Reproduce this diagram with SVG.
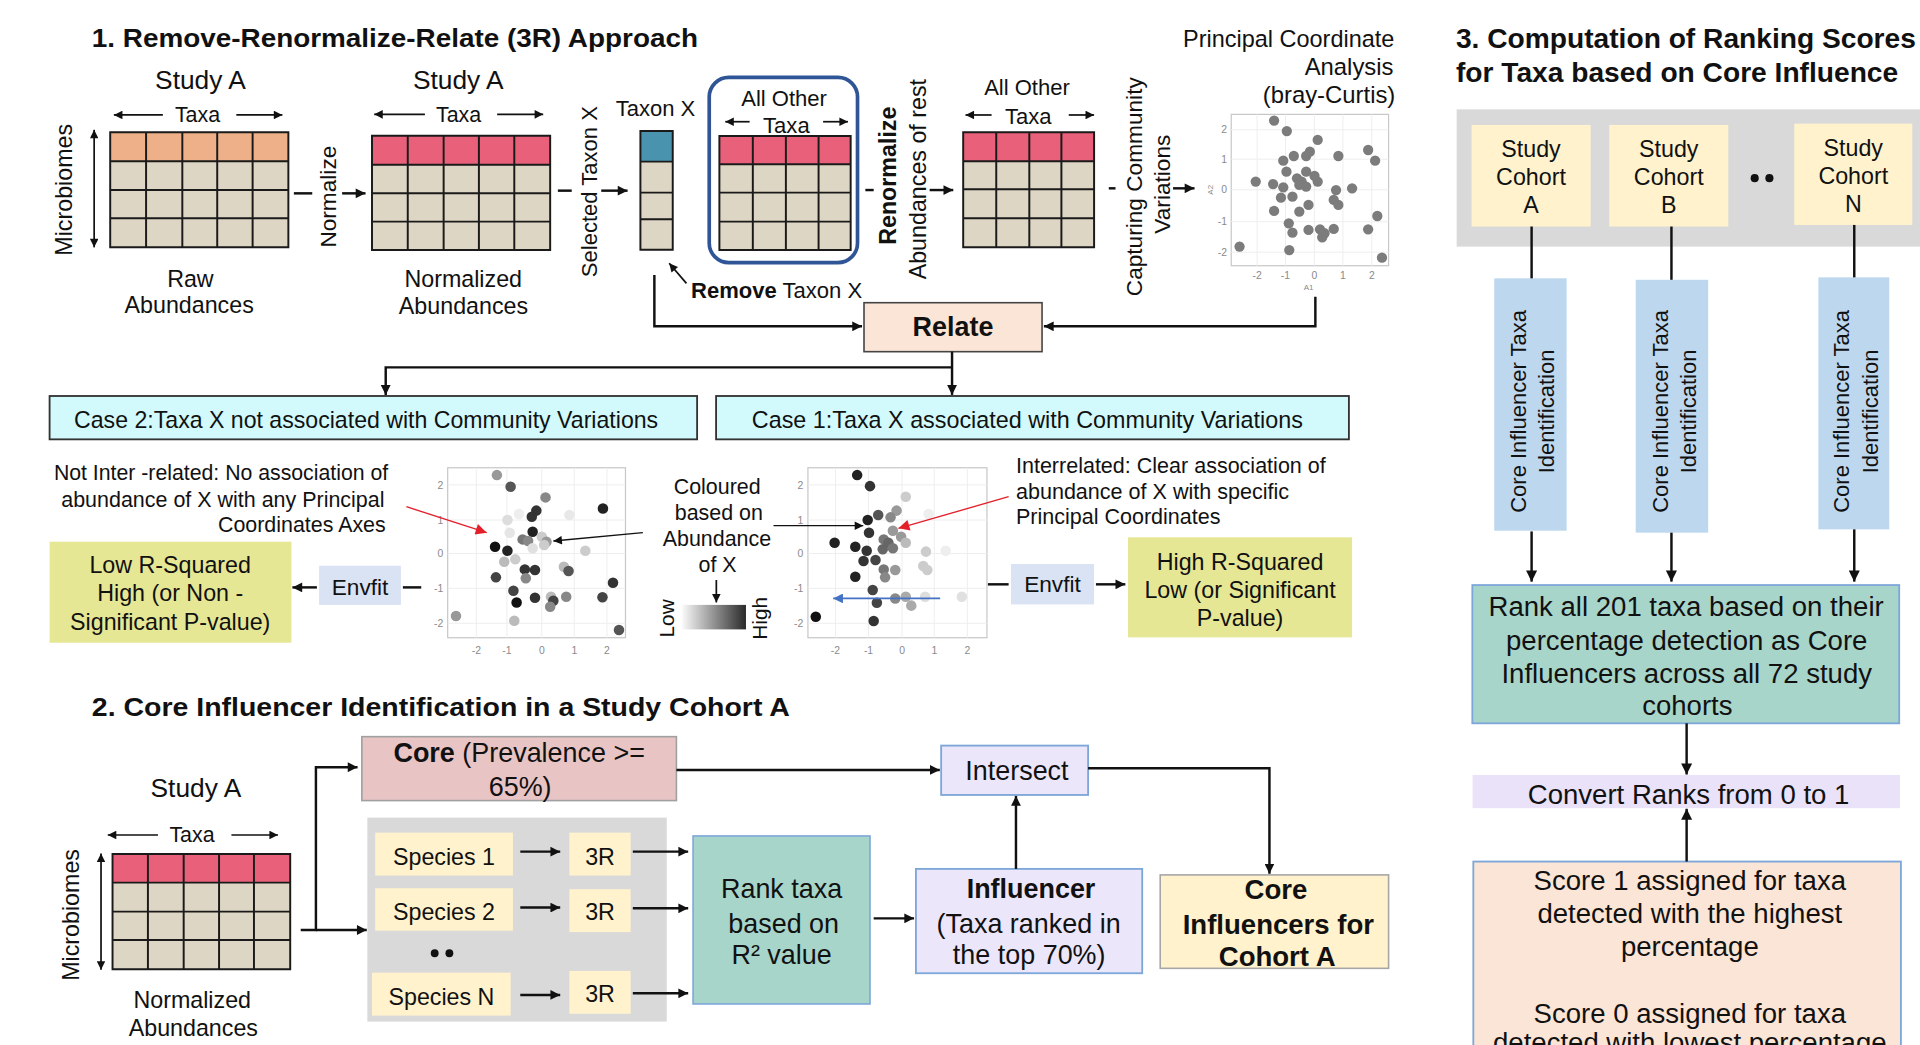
<svg xmlns="http://www.w3.org/2000/svg" width="1920" height="1045" viewBox="0 0 1920 1045">
<defs>
<style>
.t{font-family:"Liberation Sans",Arial,sans-serif;fill:#111}
.b{font-weight:bold}
.m{text-anchor:middle}
.e{text-anchor:end}
.c{stroke:#111;stroke-width:2;fill:none}
.ct{stroke:#111;stroke-width:1.4;fill:none}
.g{stroke:#1a1a1a;stroke-width:1.6;fill:none}
.tk{font-family:"Liberation Sans",Arial,sans-serif;fill:#8a8a8a;font-size:8.5px}
.fr{fill:#fff;stroke:#c8c8c8;stroke-width:1}
.gl{stroke:#eeeeee;stroke-width:0.8}
</style>
<marker id="a" viewBox="0 0 10 10" refX="10" refY="5" markerWidth="9" markerHeight="8" orient="auto-start-reverse" markerUnits="userSpaceOnUse"><path d="M0,0L10,5L0,10z" fill="#111"/></marker>
<marker id="as" viewBox="0 0 10 10" refX="10" refY="5" markerWidth="8" markerHeight="7" orient="auto-start-reverse" markerUnits="userSpaceOnUse"><path d="M0,0L10,5L0,10z" fill="#111"/></marker>
<marker id="ar" viewBox="0 0 10 10" refX="10" refY="5" markerWidth="10" markerHeight="9" orient="auto" markerUnits="userSpaceOnUse"><path d="M0,0L10,5L0,10z" fill="#e3202a"/></marker>
<marker id="ab" viewBox="0 0 10 10" refX="10" refY="5" markerWidth="9" markerHeight="8" orient="auto" markerUnits="userSpaceOnUse"><path d="M0,0L10,5L0,10z" fill="#4472c4"/></marker>
<marker id="a3" viewBox="0 0 10 10" refX="10" refY="5" markerWidth="10" markerHeight="9" orient="auto" markerUnits="userSpaceOnUse"><path d="M0,0L10,5L0,10z" fill="#111"/></marker>
<linearGradient id="grad" x1="0" y1="0" x2="1" y2="0"><stop offset="0" stop-color="#fafafa"/><stop offset="1" stop-color="#2a2a2a"/></linearGradient>
</defs>
<rect width="1920" height="1045" fill="#fff"/>
<g transform="scale(1.2245)">

<!-- ============ SECTION 1 ============ -->
<text class="t b" x="75" y="38.5" font-size="21.5" textLength="495" lengthAdjust="spacingAndGlyphs">1. Remove-Renormalize-Relate (3R) Approach</text>

<g id="raw-matrix">
<text class="t m" x="163.7" y="72.8" font-size="21.5">Study A</text>
<text class="t m" x="161.3" y="99.9" font-size="17.5">Taxa</text>
<line class="ct" x1="133" y1="93.9" x2="93" y2="93.9" marker-end="url(#as)"/>
<line class="ct" x1="193" y1="93.9" x2="230.6" y2="93.9" marker-end="url(#as)"/>
<text class="t m" transform="translate(59.2,155) rotate(-90)" font-size="19">Microbiomes</text>
<line class="ct" x1="76.9" y1="106" x2="76.9" y2="202" marker-start="url(#as)" marker-end="url(#as)"/>
<rect x="90" y="108" width="145.5" height="94" fill="#DED6C4"/>
<rect x="90" y="108" width="145.5" height="23.7" fill="#EDB088"/>
<path class="g" d="M90,108H235.5V202H90Z M119.3,108V202 M148.9,108V202 M177.4,108V202 M206.3,108V202 M90,131.7H235.5 M90,155.2H235.5 M90,178.3H235.5"/>
<text class="t m" x="155.5" y="234" font-size="19">Raw</text>
<text class="t m" x="154.5" y="255.6" font-size="19">Abundances</text>
</g>

<g id="norm-matrix">
<text class="t m" x="374.3" y="72.8" font-size="21.5">Study A</text>
<text class="t m" x="374.5" y="99.4" font-size="17.5">Taxa</text>
<line class="ct" x1="347" y1="93.4" x2="305.6" y2="93.4" marker-end="url(#as)"/>
<line class="ct" x1="406" y1="93.4" x2="443.6" y2="93.4" marker-end="url(#as)"/>
<rect x="303.8" y="110.8" width="145.5" height="93.4" fill="#DED6C4"/>
<rect x="303.8" y="110.8" width="145.5" height="23.7" fill="#E8607A"/>
<path class="g" d="M303.8,110.8H449.3V204.2H303.8Z M333,110.8V204.2 M362.3,110.8V204.2 M391.1,110.8V204.2 M420,110.8V204.2 M303.8,134.5H449.3 M303.8,157.9H449.3 M303.8,181H449.3"/>
<text class="t m" x="378.3" y="234" font-size="19">Normalized</text>
<text class="t m" x="378.5" y="256.5" font-size="19">Abundances</text>
</g>

<g id="taxon-x">
<text class="t m" x="535.3" y="94.8" font-size="18">Taxon X</text>
<rect x="523" y="107" width="26.4" height="97" fill="#DED6C4"/>
<rect x="523" y="107" width="26.4" height="25" fill="#4A93AF"/>
<path class="g" d="M523,107H549.4V204H523Z M523,132H549.4 M523,157.3H549.4 M523,179H549.4"/>
<text class="t" x="564.4" y="243" font-size="18"><tspan class="b">Remove</tspan> Taxon X</text>
</g>

<g id="other-taxa">
<rect x="587.5" y="111" width="107.2" height="93.2" fill="#DED6C4"/>
<rect x="587.5" y="111" width="107.2" height="23.2" fill="#E8607A"/>
<path class="g" d="M587.5,111H694.7V204.2H587.5Z M614.8,111V204.2 M641.8,111V204.2 M668.5,111V204.2 M587.5,134.2H694.7 M587.5,157.3H694.7 M587.5,181H694.7"/>
<rect x="579.2" y="63.2" width="121.1" height="151.3" rx="16" fill="none" stroke="#2F5597" stroke-width="3"/>
<text class="t m" x="640.3" y="86.6" font-size="18">All Other</text>
<text class="t m" x="642.2" y="109" font-size="18">Taxa</text>
<line class="ct" x1="612.2" y1="99.4" x2="592.3" y2="99.4" marker-end="url(#as)"/>
<line class="ct" x1="672.2" y1="99.4" x2="692.5" y2="99.4" marker-end="url(#as)"/>
</g>

<g id="renorm-matrix">
<text class="t m" x="838.7" y="77.9" font-size="18">All Other</text>
<text class="t m" x="839.8" y="101" font-size="18">Taxa</text>
<line class="ct" x1="809.8" y1="93.9" x2="788.5" y2="93.9" marker-end="url(#as)"/>
<line class="ct" x1="872.8" y1="93.9" x2="893.5" y2="93.9" marker-end="url(#as)"/>
<rect x="786.6" y="108" width="106.9" height="94" fill="#DED6C4"/>
<rect x="786.6" y="108" width="106.9" height="23.7" fill="#E8607A"/>
<path class="g" d="M786.6,108H893.5V202H786.6Z M813.6,108V202 M840.6,108V202 M866.8,108V202 M786.6,131.7H893.5 M786.6,154.6H893.5 M786.6,178.3H893.5"/>
</g>

<g id="pcoa">
<text class="t e" x="1138.7" y="38" font-size="19.5" textLength="172.5" lengthAdjust="spacingAndGlyphs">Principal Coordinate</text>
<text class="t e" x="1138" y="61.2" font-size="19.5">Analysis</text>
<text class="t e" x="1139.5" y="84.4" font-size="19.5">(bray-Curtis)</text>
<rect class="fr" x="1005.5" y="93.4" width="128.5" height="123.6"/>
<path class="gl" d="M1026.6,93.4V217 M1049.8,93.4V217 M1073.4,93.4V217 M1096.7,93.4V217 M1120.3,93.4V217 M1005.5,106H1134 M1005.5,130H1134 M1005.5,155H1134 M1005.5,181H1134 M1005.5,206H1134"/>
<g class="tk" text-anchor="end">
<text x="1002" y="109">2</text><text x="1002" y="133">1</text><text x="1002" y="158">0</text><text x="1002" y="184">-1</text><text x="1002" y="209">-2</text>
</g>
<g class="tk" text-anchor="middle">
<text x="1026.6" y="228">-2</text><text x="1049.8" y="228">-1</text><text x="1073.4" y="228">0</text><text x="1096.7" y="228">1</text><text x="1120.3" y="228">2</text>
<text x="1068.6" y="237" font-size="6.5">A1</text>
<text transform="translate(990.5,155) rotate(-90)" font-size="6.5">A2</text>
</g>
<g fill="#7c7c7c">
<circle cx="1040.5" cy="98.5" r="4.2"/><circle cx="1050.9" cy="107" r="4.2"/><circle cx="1076.1" cy="114.3" r="4.2"/><circle cx="1117.3" cy="122.5" r="4.2"/>
<circle cx="1093" cy="127.4" r="4.2"/><circle cx="1123" cy="131.2" r="4.2"/><circle cx="1056.6" cy="127.4" r="4.2"/><circle cx="1048" cy="131.2" r="4.2"/>
<circle cx="1069.7" cy="123.9" r="4.2"/><circle cx="1066.7" cy="127.4" r="4.2"/><circle cx="1050.6" cy="140.2" r="4.2"/><circle cx="1066.7" cy="140.2" r="4.2"/>
<circle cx="1073.5" cy="143.7" r="4.2"/><circle cx="1059.2" cy="145.6" r="4.2"/><circle cx="1063" cy="148.3" r="4.2"/><circle cx="1076.1" cy="148.3" r="4.2"/>
<circle cx="1061.1" cy="151" r="4.2"/><circle cx="1066.7" cy="152.4" r="4.2"/><circle cx="1025.5" cy="148.3" r="4.2"/><circle cx="1039.7" cy="150.3" r="4.2"/>
<circle cx="1048" cy="153" r="4.2"/><circle cx="1055.5" cy="160.6" r="4.2"/><circle cx="1091.1" cy="155.2" r="4.2"/><circle cx="1104.2" cy="153.8" r="4.2"/>
<circle cx="1046.1" cy="161.4" r="4.2"/><circle cx="1089.2" cy="163.3" r="4.2"/><circle cx="1093" cy="167.4" r="4.2"/><circle cx="1068.6" cy="167.4" r="4.2"/>
<circle cx="1061.1" cy="172.9" r="4.2"/><circle cx="1040.5" cy="172.3" r="4.2"/><circle cx="1124.8" cy="176.4" r="4.2"/><circle cx="1052.5" cy="182.4" r="4.2"/>
<circle cx="1055.5" cy="190" r="4.2"/><circle cx="1068.6" cy="187.8" r="4.2"/><circle cx="1078" cy="187.3" r="4.2"/><circle cx="1081.7" cy="190.5" r="4.2"/>
<circle cx="1089.2" cy="187" r="4.2"/><circle cx="1117.3" cy="187.3" r="4.2"/><circle cx="1079.8" cy="193.8" r="4.2"/><circle cx="1012.3" cy="201.4" r="4.2"/>
<circle cx="1052.9" cy="204.2" r="4.2"/><circle cx="1128.6" cy="210.4" r="4.2"/>
</g>
</g>

<g id="relate">
<rect x="705.6" y="247.2" width="145.4" height="40" fill="#FBE5D6" stroke="#444" stroke-width="1.3"/>
<text class="t m b" x="778.3" y="274.7" font-size="22">Relate</text>
</g>

<g id="case2">
<rect x="40.5" y="323.4" width="528.8" height="35.4" fill="#D2FAFD" stroke="#333" stroke-width="1.5"/>
<text class="t m" x="299" y="349.6" font-size="19" textLength="477" lengthAdjust="spacingAndGlyphs">Case 2:Taxa X not associated with Community Variations</text>
</g>
<g id="case1">
<rect x="584.8" y="323.4" width="516.8" height="35.4" fill="#D2FAFD" stroke="#333" stroke-width="1.5"/>
<text class="t m" x="839" y="349.6" font-size="19" textLength="450" lengthAdjust="spacingAndGlyphs">Case 1:Taxa X associated with Community Variations</text>
</g>

<g id="annot-left">
<text class="t e" x="317" y="392" font-size="17.5" textLength="273" lengthAdjust="spacingAndGlyphs">Not Inter -related: No association of</text>
<text class="t e" x="314" y="413.7" font-size="17.5" textLength="264" lengthAdjust="spacingAndGlyphs">abundance of X with any Principal</text>
<text class="t e" x="315" y="434.2" font-size="17.5" textLength="137" lengthAdjust="spacingAndGlyphs">Coordinates Axes</text>
</g>
<g id="annot-right">
<text class="t" x="829.7" y="386" font-size="17.5" textLength="253" lengthAdjust="spacingAndGlyphs">Interrelated: Clear association of</text>
<text class="t" x="829.7" y="407.8" font-size="17.5" textLength="223" lengthAdjust="spacingAndGlyphs">abundance of X with specific</text>
<text class="t" x="829.7" y="428.2" font-size="17.5" textLength="167" lengthAdjust="spacingAndGlyphs">Principal Coordinates</text>
</g>

<g id="plot-left">
<rect class="fr" x="365.6" y="382" width="145.2" height="138.8"/>
<path class="gl" d="M389,382V520.8 M414,382V520.8 M442.5,382V520.8 M469,382V520.8 M495.7,382V520.8 M365.6,396H510.8 M365.6,424.7H510.8 M365.6,452H510.8 M365.6,480.5H510.8 M365.6,509H510.8"/>
<g class="tk" text-anchor="end"><text x="362" y="399">2</text><text x="362" y="427.7">1</text><text x="362" y="455">0</text><text x="362" y="483.5">-1</text><text x="362" y="512">-2</text></g>
<g class="tk" text-anchor="middle"><text x="389" y="534">-2</text><text x="414" y="534">-1</text><text x="442.5" y="534">0</text><text x="469" y="534">1</text><text x="495.7" y="534">2</text></g>
<circle cx="405.8" cy="388" r="4.3" fill="#999"/><circle cx="417" cy="397.5" r="4.3" fill="#555"/><circle cx="445.5" cy="406.2" r="4.3" fill="#888"/><circle cx="492.4" cy="415.2" r="4.3" fill="#222"/>
<circle cx="414.4" cy="424.7" r="4.3" fill="#ddd"/><circle cx="423.8" cy="419.8" r="4.3" fill="#eee"/><circle cx="465" cy="420.6" r="4.3" fill="#e8e8e8"/><circle cx="438" cy="417" r="4.3" fill="#333"/>
<circle cx="434.3" cy="422" r="4.3" fill="#333"/><circle cx="416.3" cy="435" r="4.3" fill="#e5e5e5"/><circle cx="435" cy="434.2" r="4.3" fill="#222"/><circle cx="426.8" cy="440.5" r="4.3" fill="#777"/>
<circle cx="431.3" cy="441.8" r="4.3" fill="#888"/><circle cx="442.5" cy="438.3" r="4.3" fill="#ccc"/><circle cx="446.3" cy="442.4" r="4.3" fill="#999"/><circle cx="444.4" cy="445.1" r="4.3" fill="#ccc"/>
<circle cx="435" cy="447.8" r="4.3" fill="#e0e0e0"/><circle cx="404.3" cy="446.5" r="4.3" fill="#111"/><circle cx="414.4" cy="449.7" r="4.3" fill="#222"/><circle cx="478" cy="449.7" r="4.3" fill="#ccc"/>
<circle cx="411.8" cy="458.7" r="4.3" fill="#bbb"/><circle cx="420.8" cy="456.8" r="4.3" fill="#ccc"/><circle cx="428.6" cy="465" r="4.3" fill="#333"/><circle cx="436.9" cy="465.5" r="4.3" fill="#333"/>
<circle cx="460.5" cy="462.8" r="4.3" fill="#bbb"/><circle cx="464.3" cy="466.3" r="4.3" fill="#555"/><circle cx="405" cy="471.5" r="4.3" fill="#444"/><circle cx="429.4" cy="472.3" r="4.3" fill="#888"/>
<circle cx="419.3" cy="482.4" r="4.3" fill="#444"/><circle cx="421.9" cy="492" r="4.3" fill="#111"/><circle cx="436.9" cy="488.1" r="4.3" fill="#333"/><circle cx="450" cy="487.3" r="4.3" fill="#bbb"/>
<circle cx="451.9" cy="490.6" r="4.3" fill="#444"/><circle cx="449.3" cy="495.5" r="4.3" fill="#888"/><circle cx="462.4" cy="487.3" r="4.3" fill="#888"/><circle cx="492" cy="487.8" r="4.3" fill="#444"/>
<circle cx="500.6" cy="475.9" r="4.3" fill="#333"/><circle cx="372.4" cy="503.1" r="4.3" fill="#999"/><circle cx="420" cy="506.9" r="4.3" fill="#bbb"/><circle cx="505.5" cy="514.5" r="4.3" fill="#555"/>
</g>

<g id="legend">
<text class="t m" x="585.7" y="403.7" font-size="17.5">Coloured</text>
<text class="t m" x="587" y="424.9" font-size="17.5">based on</text>
<text class="t m" x="585.5" y="445.9" font-size="17.5">Abundance</text>
<text class="t m" x="586" y="466.8" font-size="17.5">of X</text>
<line class="ct" x1="585" y1="473.7" x2="585" y2="492" marker-end="url(#as)"/>
<rect x="557" y="494" width="52.2" height="20" fill="url(#grad)"/>
<text class="t m" transform="translate(550.5,505) rotate(-90)" font-size="17">Low</text>
<text class="t m" transform="translate(626.5,505) rotate(-90)" font-size="17">High</text>
</g>

<g id="plot-right">
<rect class="fr" x="659.8" y="382" width="146.2" height="138.8"/>
<path class="gl" d="M682.3,382V520.8 M709.3,382V520.8 M736.7,382V520.8 M763,382V520.8 M790,382V520.8 M659.8,396H806 M659.8,424.7H806 M659.8,452H806 M659.8,480.5H806 M659.8,509H806"/>
<g class="tk" text-anchor="end"><text x="656" y="399">2</text><text x="656" y="427.7">1</text><text x="656" y="455">0</text><text x="656" y="483.5">-1</text><text x="656" y="512">-2</text></g>
<g class="tk" text-anchor="middle"><text x="682.3" y="534">-2</text><text x="709.3" y="534">-1</text><text x="736.7" y="534">0</text><text x="763" y="534">1</text><text x="790" y="534">2</text></g>
<circle cx="700" cy="388" r="4.3" fill="#222"/><circle cx="710.5" cy="397" r="4.3" fill="#333"/><circle cx="739.7" cy="405.6" r="4.3" fill="#ccc"/><circle cx="732.2" cy="417" r="4.3" fill="#999"/>
<circle cx="717.2" cy="420.6" r="4.3" fill="#555"/><circle cx="708.6" cy="424.7" r="4.3" fill="#222"/><circle cx="727.3" cy="422.5" r="4.3" fill="#888"/><circle cx="758.4" cy="419.8" r="4.3" fill="#eee"/>
<circle cx="709.7" cy="435" r="4.3" fill="#333"/><circle cx="729.2" cy="433.4" r="4.3" fill="#999"/><circle cx="735.9" cy="438.3" r="4.3" fill="#999"/><circle cx="721.7" cy="440.5" r="4.3" fill="#777"/>
<circle cx="725.5" cy="443.2" r="4.3" fill="#666"/><circle cx="739.7" cy="443.2" r="4.3" fill="#bbb"/><circle cx="681.6" cy="443.2" r="4.3" fill="#222"/><circle cx="698.5" cy="446.5" r="4.3" fill="#222"/>
<circle cx="707.8" cy="449.7" r="4.3" fill="#333"/><circle cx="720.9" cy="448.6" r="4.3" fill="#666"/><circle cx="729.2" cy="447.8" r="4.3" fill="#777"/><circle cx="756.2" cy="450.5" r="4.3" fill="#ccc"/>
<circle cx="772.3" cy="449.7" r="4.3" fill="#eee"/><circle cx="705.2" cy="458.2" r="4.3" fill="#333"/><circle cx="715" cy="457.4" r="4.3" fill="#444"/><circle cx="754" cy="462.3" r="4.3" fill="#ccc"/>
<circle cx="757.3" cy="465.5" r="4.3" fill="#ccc"/><circle cx="721.7" cy="465" r="4.3" fill="#777"/><circle cx="731.1" cy="465.5" r="4.3" fill="#999"/><circle cx="698.5" cy="471" r="4.3" fill="#222"/>
<circle cx="722.8" cy="471.5" r="4.3" fill="#888"/><circle cx="712.7" cy="481.9" r="4.3" fill="#444"/><circle cx="716.1" cy="492.2" r="4.3" fill="#444"/><circle cx="731.1" cy="488.7" r="4.3" fill="#888"/>
<circle cx="739.7" cy="487.3" r="4.3" fill="#aaa"/><circle cx="744.2" cy="494.6" r="4.3" fill="#aaa"/><circle cx="755.5" cy="487.3" r="4.3" fill="#ddd"/><circle cx="785.5" cy="487.3" r="4.3" fill="#e0e0e0"/>
<circle cx="666.2" cy="503.6" r="4.3" fill="#111"/><circle cx="713.5" cy="507.2" r="4.3" fill="#333"/>
</g>

<g id="envfit-left">
<rect x="260.6" y="462" width="66.8" height="32" fill="#DAE3F3"/>
<text class="t m" x="294" y="486" font-size="18.5">Envfit</text>
</g>
<g id="lowr">
<rect x="40.5" y="442.4" width="197.5" height="82.5" fill="#E6E795"/>
<text class="t m" x="139" y="468" font-size="19">Low R-Squared</text>
<text class="t m" x="139" y="491.2" font-size="19">High (or Non -</text>
<text class="t m" x="139" y="514.3" font-size="19">Significant P-value)</text>
</g>
<g id="envfit-right">
<rect x="825.6" y="460.6" width="67.9" height="33" fill="#DAE3F3"/>
<text class="t m" x="859.5" y="483.8" font-size="18.5">Envfit</text>
</g>
<g id="highr">
<rect x="921.2" y="438.8" width="183" height="81.7" fill="#E6E795"/>
<text class="t m" x="1012.7" y="465.4" font-size="19">High R-Squared</text>
<text class="t m" x="1012.7" y="488" font-size="19">Low (or Significant</text>
<text class="t m" x="1012.7" y="510.9" font-size="19">P-value)</text>
</g>

<!-- section 1 rotated step labels -->
<g id="step-labels">
<text class="t m" transform="translate(274.5,160.6) rotate(-90)" font-size="18.5">Normalize</text>
<text class="t m" transform="translate(487.3,156.5) rotate(-90)" font-size="18">Selected Taxon X</text>
<text class="t m b" transform="translate(732,143.5) rotate(-90)" font-size="19">Renormalize</text>
<text class="t m" transform="translate(756.4,146.3) rotate(-90)" font-size="19">Abundances of rest</text>
<text class="t m" transform="translate(932.5,152.5) rotate(-90)" font-size="18.5">Capturing Community</text>
<text class="t m" transform="translate(955.1,150.4) rotate(-90)" font-size="18.5">Variations</text>
</g>

<!-- ============ SECTION 2 ============ -->
<text class="t b" x="75" y="584.5" font-size="21.5" textLength="570" lengthAdjust="spacingAndGlyphs">2. Core Influencer Identification in a Study Cohort A</text>

<g id="study-a-matrix">
<text class="t m" x="160" y="650.5" font-size="21.5">Study A</text>
<text class="t m" x="156.8" y="688" font-size="17.5">Taxa</text>
<line class="ct" x1="129" y1="681.9" x2="88" y2="681.9" marker-end="url(#as)"/>
<line class="ct" x1="189" y1="681.9" x2="227" y2="681.9" marker-end="url(#as)"/>
<text class="t m" transform="translate(64.7,747.2) rotate(-90)" font-size="19">Microbiomes</text>
<line class="ct" x1="82.5" y1="697" x2="82.5" y2="792" marker-start="url(#as)" marker-end="url(#as)"/>
<rect x="91.9" y="697.4" width="145.1" height="94.2" fill="#DED6C4"/>
<rect x="91.9" y="697.4" width="145.1" height="23.4" fill="#E8607A"/>
<path class="g" d="M91.9,697.4H237V791.6H91.9Z M120.8,697.4V791.6 M150,697.4V791.6 M178.9,697.4V791.6 M207.4,697.4V791.6 M91.9,720.8H237 M91.9,744.5H237 M91.9,767.6H237"/>
<text class="t m" x="157" y="823.2" font-size="19">Normalized</text>
<text class="t m" x="157.9" y="846.4" font-size="19">Abundances</text>
</g>

<g id="core">
<rect x="295.5" y="601.6" width="256.9" height="52.2" fill="#E8C4C5" stroke="#a0a0a0" stroke-width="1.3"/>
<text class="t m" x="424" y="622.3" font-size="22"><tspan class="b">Core</tspan> (Prevalence &gt;=</text>
<text class="t m" x="424.8" y="650" font-size="22">65%)</text>
</g>

<g id="species-panel">
<rect x="300" y="667.7" width="244.5" height="166.6" fill="#D9D9D9"/>
<rect x="306.4" y="680" width="112.5" height="35" fill="#FFF2CC"/>
<text class="t m" x="362.6" y="706.3" font-size="19">Species 1</text>
<rect x="306.4" y="725.4" width="112.5" height="34.6" fill="#FFF2CC"/>
<text class="t m" x="362.6" y="751.2" font-size="19">Species 2</text>
<circle cx="355" cy="778.5" r="3.2" fill="#111"/><circle cx="367" cy="778.5" r="3.2" fill="#111"/>
<rect x="303.8" y="794.3" width="113.2" height="35.1" fill="#FFF2CC"/>
<text class="t m" x="360.5" y="820.6" font-size="19">Species N</text>
<rect x="465" y="680" width="50" height="35" fill="#FFF2CC"/>
<text class="t m" x="490" y="706.3" font-size="19">3R</text>
<rect x="465" y="726.2" width="50" height="35" fill="#FFF2CC"/>
<text class="t m" x="490" y="751.2" font-size="19">3R</text>
<rect x="465" y="792.9" width="50" height="35" fill="#FFF2CC"/>
<text class="t m" x="490" y="818.4" font-size="19">3R</text>
</g>

<g id="rank-taxa">
<rect x="566" y="682.7" width="144.5" height="137.2" fill="#A8D5CA" stroke="#7DA7D9" stroke-width="1.3"/>
<text class="t m" x="638.3" y="733" font-size="22">Rank taxa</text>
<text class="t m" x="640" y="761.7" font-size="22">based on</text>
<text class="t m" x="638.3" y="787.6" font-size="22">R² value</text>
</g>

<g id="intersect">
<rect x="768.6" y="608.9" width="120" height="40.3" fill="#ECE6FA" stroke="#7DA7D9" stroke-width="1.5"/>
<text class="t m" x="830.5" y="637" font-size="22">Intersect</text>
</g>

<g id="influencer">
<rect x="748" y="709.6" width="184.8" height="85.2" fill="#ECE6FA" stroke="#7DA7D9" stroke-width="1.5"/>
<text class="t m b" x="842" y="733" font-size="22">Influencer</text>
<text class="t m" x="840" y="761.7" font-size="22">(Taxa ranked in</text>
<text class="t m" x="840.5" y="787.6" font-size="22">the top 70%)</text>
</g>

<g id="core-influencers">
<rect x="947.5" y="714.5" width="186.5" height="76.3" fill="#FFF2CC" stroke="#a6a6a6" stroke-width="1.3"/>
<text class="t m b" x="1042" y="734.5" font-size="22.5">Core</text>
<text class="t m b" x="1044" y="763" font-size="22.5">Influencers for</text>
<text class="t m b" x="1043" y="788.7" font-size="22.5">Cohort A</text>
</g>

<!-- ============ SECTION 3 ============ -->
<text class="t b" x="1189" y="39.5" font-size="23">3. Computation of Ranking Scores</text>
<text class="t b" x="1189" y="67" font-size="23">for Taxa based on Core Influence</text>

<g id="cohorts">
<rect x="1189.6" y="89.3" width="390" height="112.1" fill="#D9D9D9"/>
<rect x="1201.8" y="102" width="97.2" height="83" fill="#FFF2CC"/>
<text class="t m" x="1250.3" y="128.4" font-size="19">Study</text>
<text class="t m" x="1250.3" y="151" font-size="19">Cohort</text>
<text class="t m" x="1250.3" y="174" font-size="19">A</text>
<rect x="1314.2" y="102" width="97.2" height="83" fill="#FFF2CC"/>
<text class="t m" x="1362.8" y="128.4" font-size="19">Study</text>
<text class="t m" x="1362.8" y="151" font-size="19">Cohort</text>
<text class="t m" x="1362.8" y="174" font-size="19">B</text>
<circle cx="1433" cy="145.5" r="3.3" fill="#111"/><circle cx="1445" cy="145.5" r="3.3" fill="#111"/>
<rect x="1465.3" y="101" width="96.4" height="82.7" fill="#FFF2CC"/>
<text class="t m" x="1513.5" y="127.4" font-size="19">Study</text>
<text class="t m" x="1513.5" y="150" font-size="19">Cohort</text>
<text class="t m" x="1513.5" y="173" font-size="19">N</text>
</g>

<g id="identification">
<rect x="1220.3" y="227.3" width="59.1" height="206.1" fill="#BDD7EE"/>
<text class="t m" transform="translate(1246.3,336) rotate(-90)" font-size="18">Core Influencer Taxa</text>
<text class="t m" transform="translate(1269.3,336) rotate(-90)" font-size="18">Identification</text>
<rect x="1335.8" y="228.5" width="59.2" height="206.5" fill="#BDD7EE"/>
<text class="t m" transform="translate(1361.8,336) rotate(-90)" font-size="18">Core Influencer Taxa</text>
<text class="t m" transform="translate(1384.8,336) rotate(-90)" font-size="18">Identification</text>
<rect x="1485" y="226.5" width="57.9" height="205.8" fill="#BDD7EE"/>
<text class="t m" transform="translate(1510.3,336) rotate(-90)" font-size="18">Core Influencer Taxa</text>
<text class="t m" transform="translate(1533.3,336) rotate(-90)" font-size="18">Identification</text>
</g>

<g id="rank-all">
<rect x="1202.4" y="477.8" width="348.6" height="112.9" fill="#A8D5CA" stroke="#7DA7D9" stroke-width="1.5"/>
<text class="t m" x="1377" y="503.4" font-size="22.5">Rank all 201 taxa based on their</text>
<text class="t m" x="1377.5" y="530.6" font-size="22.5">percentage detection as Core</text>
<text class="t m" x="1377.5" y="557.8" font-size="22.5">Influencers across all 72 study</text>
<text class="t m" x="1378" y="583.6" font-size="22.5">cohorts</text>
</g>

<g id="convert">
<rect x="1202.6" y="632.9" width="349" height="27.1" fill="#EAE2F8"/>
<text class="t m" x="1379" y="656.3" font-size="22.5">Convert Ranks from 0 to 1</text>
</g>

<g id="score">
<rect x="1203.2" y="703.6" width="349.2" height="180" fill="#FBE5D6" stroke="#7DA7D9" stroke-width="1.5"/>
<text class="t m" x="1380" y="726.5" font-size="22.5">Score 1 assigned for taxa</text>
<text class="t m" x="1380" y="753.7" font-size="22.5">detected with the highest</text>
<text class="t m" x="1380" y="780.9" font-size="22.5">percentage</text>
<text class="t m" x="1380" y="835.4" font-size="22.5">Score 0 assigned for taxa</text>
<text class="t m" x="1380" y="859" font-size="22.5">detected with lowest percentage</text>
</g>

<!-- ============ CONNECTORS ============ -->
<g id="connectors">
<line class="c" x1="240" y1="157.9" x2="255" y2="157.9"/>
<line class="c" x1="279.4" y1="157.9" x2="298.5" y2="157.9" marker-end="url(#a)"/>
<line class="c" x1="455.6" y1="155.7" x2="466.9" y2="155.7"/>
<line class="c" x1="491" y1="155.7" x2="512.5" y2="155.7" marker-end="url(#a)"/>
<line class="c" x1="706.7" y1="155.2" x2="713.5" y2="155.2"/>
<line class="c" x1="759.2" y1="155.2" x2="778.5" y2="155.2" marker-end="url(#a)"/>
<line class="c" x1="905.5" y1="153.8" x2="911" y2="153.8"/>
<line class="c" x1="958" y1="153.8" x2="975.5" y2="153.8" marker-end="url(#a)"/>
<line class="ct" x1="560.6" y1="231.4" x2="546.5" y2="215" marker-end="url(#as)"/>
<path class="c" d="M534.4,224.6V266.5H704" marker-end="url(#a)"/>
<path class="c" d="M1074.2,242.3V266.5H852.5" marker-end="url(#a)"/>
<line class="c" x1="777.5" y1="287.2" x2="777.5" y2="322.5" marker-end="url(#a)"/>
<path class="c" d="M777.5,300H315V322.5" marker-end="url(#a)"/>
<line x1="331.9" y1="413.8" x2="397.5" y2="435" stroke="#e3202a" stroke-width="1.1" marker-end="url(#ar)"/>
<line x1="525" y1="435" x2="451.9" y2="441.8" stroke="#111" stroke-width="1.1" marker-end="url(#as)"/>
<line x1="631.7" y1="429.3" x2="705" y2="429.3" stroke="#111" stroke-width="1.1" marker-end="url(#as)"/>
<line x1="823.7" y1="405.6" x2="733.7" y2="431.5" stroke="#e3202a" stroke-width="1.1" marker-end="url(#ar)"/>
<line x1="767.8" y1="488.7" x2="680.4" y2="488.7" stroke="#4472c4" stroke-width="1.4" marker-end="url(#ab)"/>
<line class="c" x1="329" y1="479.7" x2="344" y2="479.7"/>
<line class="c" x1="258.8" y1="479.7" x2="238.8" y2="479.7" marker-end="url(#a)"/>
<line class="c" x1="806.8" y1="477.2" x2="823.7" y2="477.2"/>
<line class="c" x1="895" y1="477.2" x2="919" y2="477.2" marker-end="url(#a)"/>
<path class="c" d="M245.6,759.5H258V626.6H292" marker-end="url(#a)"/>
<line class="c" x1="258" y1="759.5" x2="299.5" y2="759.5" marker-end="url(#a)"/>
<line class="c" x1="552.4" y1="628.8" x2="767.5" y2="628.8" marker-end="url(#a)"/>
<line class="c" x1="424.9" y1="695.5" x2="457.5" y2="695.5" marker-end="url(#a)"/>
<line class="c" x1="424.9" y1="741.2" x2="457.5" y2="741.2" marker-end="url(#a)"/>
<line class="c" x1="424.9" y1="812.5" x2="457.5" y2="812.5" marker-end="url(#a)"/>
<line class="c" x1="516.8" y1="695.5" x2="562" y2="695.5" marker-end="url(#a)"/>
<line class="c" x1="516.8" y1="741.8" x2="562" y2="741.8" marker-end="url(#a)"/>
<line class="c" x1="516.8" y1="811.2" x2="562" y2="811.2" marker-end="url(#a)"/>
<line class="c" x1="713.5" y1="750" x2="746.5" y2="750" marker-end="url(#a)"/>
<line class="c" x1="829.7" y1="709.6" x2="829.7" y2="650" marker-end="url(#a)"/>
<path class="c" d="M888.6,627.4H1036.7V713.5" marker-end="url(#a)"/>
<line class="c" x1="1250.8" y1="185" x2="1250.8" y2="227.3" stroke-width="2.4"/>
<line class="c" x1="1365" y1="185" x2="1365" y2="228.5" stroke-width="2.4"/>
<line class="c" x1="1514.3" y1="183.7" x2="1514.3" y2="226.5" stroke-width="2.4"/>
<line class="c" x1="1250.8" y1="434" x2="1250.8" y2="475" stroke-width="2.4" marker-end="url(#a3)"/>
<line class="c" x1="1365" y1="435" x2="1365" y2="475" stroke-width="2.4" marker-end="url(#a3)"/>
<line class="c" x1="1514.3" y1="432.3" x2="1514.3" y2="475" stroke-width="2.4" marker-end="url(#a3)"/>
<line class="c" x1="1377.4" y1="590.7" x2="1377.4" y2="632.5" stroke-width="2.4" marker-end="url(#a3)"/>
<line class="c" x1="1377.4" y1="703.6" x2="1377.4" y2="660.5" stroke-width="2.4" marker-end="url(#a3)"/>
</g>
</g>
</svg>
